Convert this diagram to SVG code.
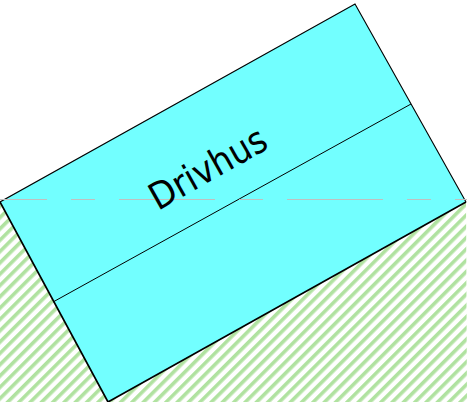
<svg xmlns="http://www.w3.org/2000/svg" width="467" height="402" viewBox="0 0 467 402">
<style>
.edge{fill:none;stroke:#000;stroke-width:1.1}
.heavy{fill:none;stroke:#000;stroke-width:1.7}
.thin{fill:none;stroke:#000;stroke-width:1}
.axis{fill:none;stroke:#c0c0c0;stroke-width:1;stroke-dasharray:96 24 24 24}
.label{font-family:"DejaVu Sans",sans-serif;font-size:37px;fill:#000}
</style>
<defs>
<pattern id="hatch" width="8" height="8" patternUnits="userSpaceOnUse" patternTransform="rotate(-45)">
<rect width="8" height="8" fill="#fff"/>
<rect width="8" height="3.6" fill="#b0e2a0"/>
</pattern>
</defs>
<g id="ground"><polygon points="0,202 466,202 467,402 0,402" fill="url(#hatch)"/></g>
<g id="drivhus">
<polygon points="355,4 466,202 108,402 0,202" fill="#72ffff"/>
<polyline class="edge" points="0,202 355,4 466,202"/>
<polyline class="heavy" points="0,202 108,402 466,202"/>
</g>
<g id="connectors">
<line class="thin" x1="53" y1="302" x2="411" y2="104"/>
<line class="axis" x1="-49" y1="199.5" x2="467" y2="199.5"/>
</g>
<g id="label">
<text class="label" transform="translate(158,211) rotate(-29.5)" textLength="129" lengthAdjust="spacingAndGlyphs">Drivhus</text>
</g>
</svg>
